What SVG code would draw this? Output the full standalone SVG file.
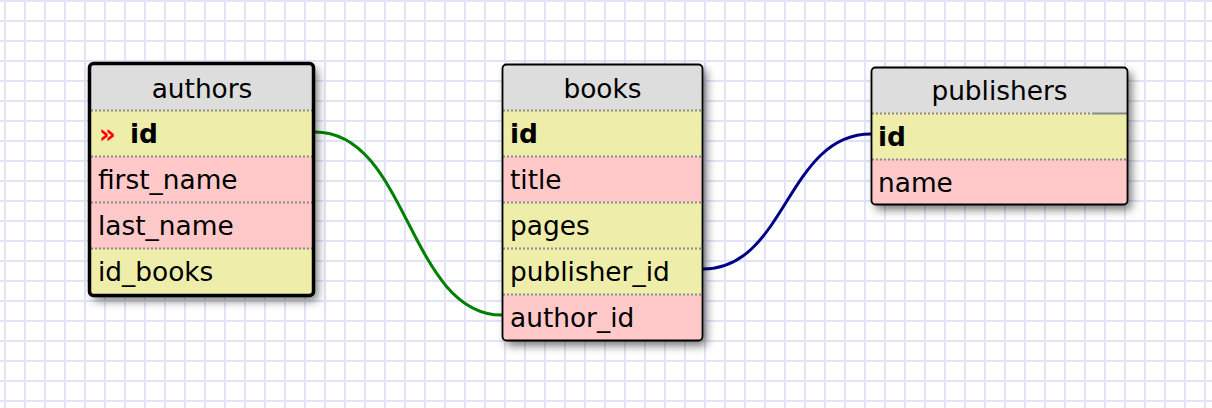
<svg xmlns="http://www.w3.org/2000/svg" width="1212" height="408" viewBox="0 0 1212 408">
<style>
.txt{font-family:"DejaVu Sans","Verdana",sans-serif;font-size:26.4px;fill:#000}
.hd{text-anchor:middle}
.b{font-weight:bold}
.key{font-family:"DejaVu Sans",sans-serif;font-size:26px;font-weight:bold;fill:#ff0000}
.hdr{fill:#dddddd}
.num{fill:#eeeeaa}
.str{fill:#ffc9c9}
.sep{stroke:#8a8a8a;stroke-width:2;stroke-dasharray:2 2;fill:none}
.sepS{stroke:#8a8a8a;stroke-width:2;fill:none}
.border{fill:none;stroke:#000}
.conn{fill:none;stroke-width:3}
</style>
<defs>
<pattern id="grid" patternUnits="userSpaceOnUse" x="4" y="0" width="20" height="20">
<rect x="0" y="0" width="20" height="20" fill="#ffffff"/>
<rect x="0" y="0" width="2" height="20" fill="#e3e3f8"/>
<rect x="0" y="0" width="20" height="2" fill="#e3e3f8"/>
</pattern>
<filter id="shadow" x="-15%" y="-15%" width="140%" height="140%">
<feDropShadow dx="4" dy="5" stdDeviation="5" flood-color="#000" flood-opacity="0.55"/>
</filter>
<clipPath id="clipA"><rect x="89.5" y="63.5" width="224" height="232" rx="4"/></clipPath>
<clipPath id="clipB"><rect x="502.5" y="64.5" width="200" height="276" rx="4"/></clipPath>
<clipPath id="clipP"><rect x="871.5" y="67.5" width="256" height="137" rx="4"/></clipPath>
</defs>
<rect x="0" y="0" width="1212" height="408" fill="url(#grid)"/>

<g id="connectors">
<path class="conn" stroke="#008000" d="M315,132 C408.5,132 408.5,315 502,315"/>
<path class="conn" stroke="#000088" d="M703,269 C786.5,269 786.5,134 871,134"/>
</g>

<g id="authors">
<rect x="89.5" y="63.5" width="224" height="232" rx="4" fill="#fff" filter="url(#shadow)"/>
<g clip-path="url(#clipA)">
<rect class="hdr" x="88" y="62" width="228" height="48"/>
<rect class="num" x="88" y="110" width="228" height="47"/>
<rect class="str" x="88" y="157" width="228" height="46"/>
<rect class="str" x="88" y="203" width="228" height="46"/>
<rect class="num" x="88" y="249" width="228" height="48"/>
<path class="sep" d="M91,110.5H312M91,156.5H312M91,202.5H312M91,248.5H312"/>
</g>
<rect class="border" x="89.5" y="63.5" width="224" height="232" rx="4" stroke-width="3.5"/>
<text class="txt hd" x="202" y="98">authors</text>
<text class="key" x="99" y="143">»</text>
<text class="txt b" x="130" y="143">id</text>
<text class="txt" x="98" y="189">first_name</text>
<text class="txt" x="98" y="235">last_name</text>
<text class="txt" x="98" y="281">id_books</text>
</g>

<g id="books">
<rect x="502.5" y="64.5" width="200" height="276" rx="4" fill="#fff" filter="url(#shadow)"/>
<g clip-path="url(#clipB)">
<rect class="hdr" x="502" y="64" width="202" height="46"/>
<rect class="num" x="502" y="110" width="202" height="46.5"/>
<rect class="str" x="502" y="156.5" width="202" height="46"/>
<rect class="num" x="502" y="202.5" width="202" height="46"/>
<rect class="num" x="502" y="248.5" width="202" height="46.5"/>
<rect class="str" x="502" y="295" width="202" height="47"/>
<path class="sep" d="M503,110.5H702M503,156.5H702M503,202.5H702M503,248.5H702M503,294.5H702"/>
</g>
<rect class="border" x="502.5" y="64.5" width="200" height="276" rx="4" stroke-width="1.8"/>
<text class="txt hd" x="602.5" y="98">books</text>
<text class="txt b" x="510" y="143">id</text>
<text class="txt" x="510" y="189">title</text>
<text class="txt" x="510" y="235">pages</text>
<text class="txt" x="510" y="281">publisher_id</text>
<text class="txt" x="510" y="327">author_id</text>
</g>

<g id="publishers">
<rect x="871.5" y="67.5" width="256" height="137" rx="4" fill="#fff" filter="url(#shadow)"/>
<g clip-path="url(#clipP)">
<rect class="hdr" x="871" y="67" width="258" height="46"/>
<rect class="num" x="871" y="113" width="258" height="46"/>
<rect class="str" x="871" y="159" width="258" height="47"/>
<path class="sep" d="M872,113.5H1092M872,159.5H1127"/>
<path class="sepS" d="M1092,113.5H1127"/>
</g>
<rect class="border" x="871.5" y="67.5" width="256" height="137" rx="4" stroke-width="1.8"/>
<text class="txt hd" x="999.5" y="100">publishers</text>
<text class="txt b" x="878" y="146">id</text>
<text class="txt" x="878" y="192">name</text>
</g>
</svg>
